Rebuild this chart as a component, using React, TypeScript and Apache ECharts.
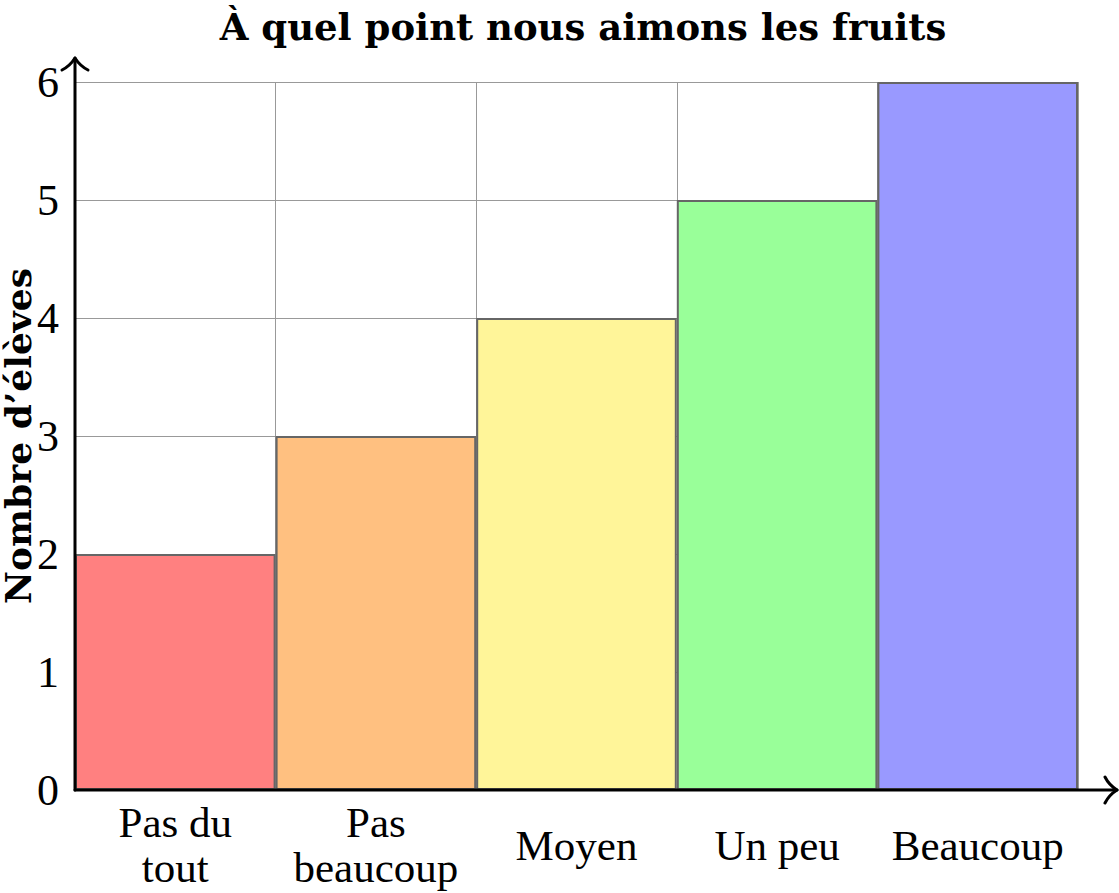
import React, { useEffect, useRef } from "react";
import * as echarts from "echarts";

const categories = ["Pas du\ntout", "Pas\nbeaucoup", "Moyen", "Un peu", "Beaucoup"];
const values = [2, 3, 4, 5, 6];
const barColors = ["#FF8080", "#FFC080", "#FFF599", "#99FF99", "#9999FF"];
const yTicks = [0, 1, 2, 3, 4, 5, 6];
const titleText = "À quel point nous aimons les fruits";
const yName = "Nombre d’élèves";

const FONT = "'Liberation Serif', 'DejaVu Serif', serif";
const BOLD_FONT = "'DejaVu Serif', 'Liberation Serif', serif";
const GRID = { left: 75, right: 41, top: 82, bottom: 103 };
const W = 1119;
const H = 893;

export default function App() {
  const ref = useRef<HTMLDivElement>(null);
  useEffect(() => {
    document.body.style.margin = "0";
    if (!ref.current) return;
    const chart = echarts.init(ref.current, null, { renderer: "svg" });
    const x0 = GRID.left;
    const y0 = H - GRID.bottom;
    const yTop = 58;
    const xEnd = 1117;
    const stroke = { stroke: "#000", lineWidth: 3, lineCap: "round", lineJoin: "round", fill: null };
    chart.setOption({
      animation: false,
      backgroundColor: "#ffffff",
      title: {
        text: titleText,
        left: 578,
        textAlign: "center",
        top: 3,
        textStyle: { fontFamily: BOLD_FONT, fontWeight: "bold", fontSize: 37, color: "#000" },
      },
      grid: { ...GRID, outerBoundsMode: "none", containLabel: false },
      xAxis: {
        type: "category",
        data: categories,
        boundaryGap: true,
        axisLine: { show: false },
        axisTick: { show: false },
        splitLine: { show: true, lineStyle: { color: "#999", width: 1 } },
        axisLabel: {
          interval: 0,
          margin: 55,
          verticalAlign: "middle",
          fontFamily: FONT,
          fontSize: 43,
          lineHeight: 45,
          color: "#000",
        },
      },
      yAxis: {
        type: "value",
        min: yTicks[0],
        max: yTicks[yTicks.length - 1],
        interval: 1,
        name: yName,
        nameLocation: "middle",
        nameGap: 57,
        nameMoveOverlap: false,
        nameTextStyle: {
          fontFamily: BOLD_FONT,
          fontWeight: "bold",
          fontSize: 36,
          lineHeight: 32,
          verticalAlign: "middle",
          color: "#000",
        },
        axisLine: { show: false },
        axisTick: { show: false },
        splitLine: { show: true, lineStyle: { color: "#999", width: 1 } },
        axisLabel: { margin: 16, fontFamily: FONT, fontSize: 44, color: "#000" },
      },
      series: [
        {
          type: "bar",
          barCategoryGap: "0%",
          data: values.map((v, i) => ({
            value: v,
            itemStyle: { color: barColors[i], borderColor: "#666", borderWidth: 2 },
          })),
        },
      ],
      graphic: [
        { type: "line", z: 100, shape: { x1: x0, y1: y0, x2: xEnd - 1, y2: y0 }, style: stroke },
        { type: "line", z: 100, shape: { x1: x0, y1: y0, x2: x0, y2: yTop + 1 }, style: stroke },
        {
          type: "bezierCurve", z: 100,
          shape: { x1: xEnd - 12, y1: y0 - 13, x2: xEnd, y2: y0, cpx1: xEnd - 8, cpy1: y0 - 5 },
          style: stroke,
        },
        {
          type: "bezierCurve", z: 100,
          shape: { x1: xEnd - 12, y1: y0 + 13, x2: xEnd, y2: y0, cpx1: xEnd - 8, cpy1: y0 + 5 },
          style: stroke,
        },
        {
          type: "bezierCurve", z: 100,
          shape: { x1: x0 - 13, y1: yTop + 12, x2: x0, y2: yTop, cpx1: x0 - 5, cpy1: yTop + 8 },
          style: stroke,
        },
        {
          type: "bezierCurve", z: 100,
          shape: { x1: x0 + 13, y1: yTop + 12, x2: x0, y2: yTop, cpx1: x0 + 5, cpy1: yTop + 8 },
          style: stroke,
        },
      ],
    });
    return () => chart.dispose();
  }, []);
  return <div ref={ref} style={{ width: W, height: H }} />;
}
